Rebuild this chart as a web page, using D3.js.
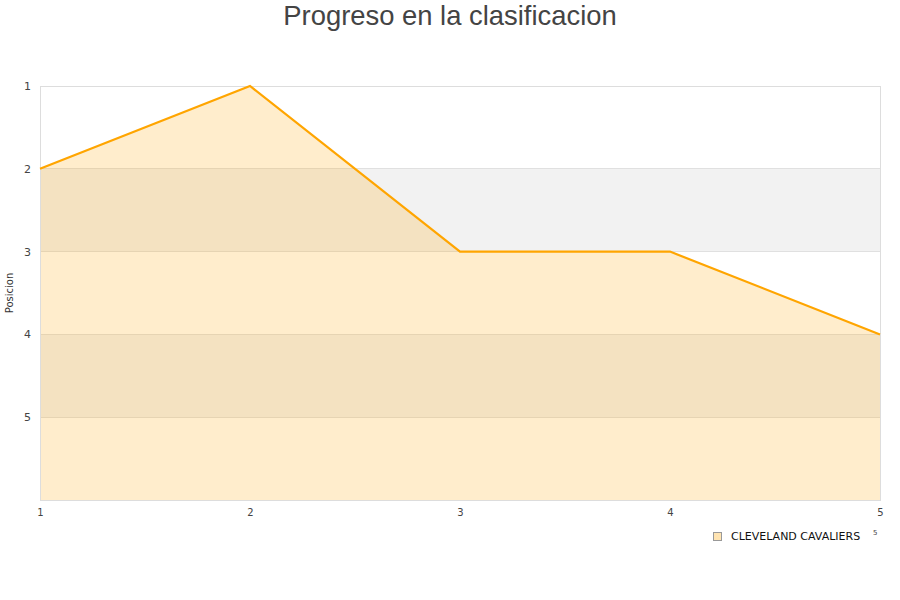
<!DOCTYPE html>
<html><head><meta charset="utf-8">
<script src="https://cdn.jsdelivr.net/npm/d3@7"></script>
<style>body{margin:0;background:#fff;}svg{display:block;}</style>
</head><body>
<script>
const rounds = [1, 2, 3, 4, 5];
const positions = [2, 1, 3, 3, 4];
const yTicks = [1, 2, 3, 4, 5];
const seriesName = "CLEVELAND CAVALIERS";
const titleText = "Progreso en la clasificacion";

const W = 900, H = 600;
const m = {l: 40, r: 20, t: 86, b: 100};
const svg = d3.select("body").append("svg").attr("width", W).attr("height", H);

const x = d3.scaleLinear().domain([1, 5]).range([m.l, W - m.r]);
const y = d3.scaleLinear().domain([1, 6]).range([m.t, H - m.b]);

// bands
const bands = [[2, 3], [4, 5]];
svg.selectAll("rect.band").data(bands).enter().append("rect")
  .attr("x", x(1)).attr("width", x(5) - x(1))
  .attr("y", d => y(d[0])).attr("height", d => y(d[1]) - y(d[0]))
  .attr("fill", "#f2f2f2");

// grid
svg.selectAll("line.grid").data(yTicks).enter().append("line")
  .attr("x1", x(1)).attr("x2", x(5))
  .attr("y1", d => y(d)).attr("y2", d => y(d))
  .attr("stroke", "#e0e0e0").attr("stroke-width", 1).attr("shape-rendering", "crispEdges");

// area
const data = rounds.map((r, i) => ({r, p: positions[i]}));
svg.append("path").datum(data)
  .attr("d", d3.area().x(d => x(d.r)).y0(y(6)).y1(d => y(d.p)))
  .attr("fill", "rgba(255,165,0,0.2)");

// border
svg.append("rect").attr("x", x(1)).attr("y", y(1))
  .attr("width", x(5) - x(1)).attr("height", y(6) - y(1))
  .attr("fill", "none").attr("stroke", "#dddddd").attr("shape-rendering", "crispEdges");

// line
svg.append("path").datum(data)
  .attr("d", d3.line().x(d => x(d.r)).y(d => y(d.p)))
  .attr("fill", "none").attr("stroke", "#ffa500").attr("stroke-width", 2.2);

// axes
const font = "'DejaVu Sans', sans-serif";
const yAxis = d3.axisLeft(y).tickValues(yTicks).tickFormat(d3.format("d")).tickSize(0).tickPadding(9);
const gy = svg.append("g").attr("transform", `translate(${m.l},0)`).call(yAxis);
gy.attr("font-family", font);
gy.select(".domain").remove();
gy.selectAll("text").attr("font-family", font).attr("font-size", 11).attr("fill", "#444");

const xAxis = d3.axisBottom(x).tickValues(rounds).tickFormat(d3.format("d")).tickSize(0).tickPadding(9);
const gx = svg.append("g").attr("transform", `translate(0,${y(6)})`).call(xAxis);
gx.attr("font-family", font);
gx.select(".domain").remove();
gx.selectAll("text").attr("font-family", font).attr("font-size", 10).attr("fill", "#444");

// y label
svg.append("text").attr("transform", `translate(13,${(y(1)+y(6))/2}) rotate(-90)`)
  .attr("text-anchor", "middle").attr("font-family", font).attr("font-size", 10)
  .attr("fill", "#333").text("Posicion");

// title
svg.append("text").attr("x", W / 2).attr("y", 25).attr("text-anchor", "middle")
  .attr("font-family", "'Liberation Sans', Arial, sans-serif").attr("font-size", 27.4)
  .attr("fill", "#444").text(titleText);

// legend
svg.append("rect").attr("x", 713.5).attr("y", 532.5).attr("width", 8).attr("height", 8)
  .attr("fill", "rgba(255,165,0,0.3)").attr("stroke", "#999").attr("stroke-width", 1);
svg.append("text").attr("x", 731).attr("y", 540).attr("font-family", font)
  .attr("font-size", 11).attr("fill", "#111").text(seriesName);
svg.append("text").attr("x", 873).attr("y", 535).attr("font-family", font)
  .attr("font-size", 7).attr("fill", "#444").text("5");
</script>
</body></html>
